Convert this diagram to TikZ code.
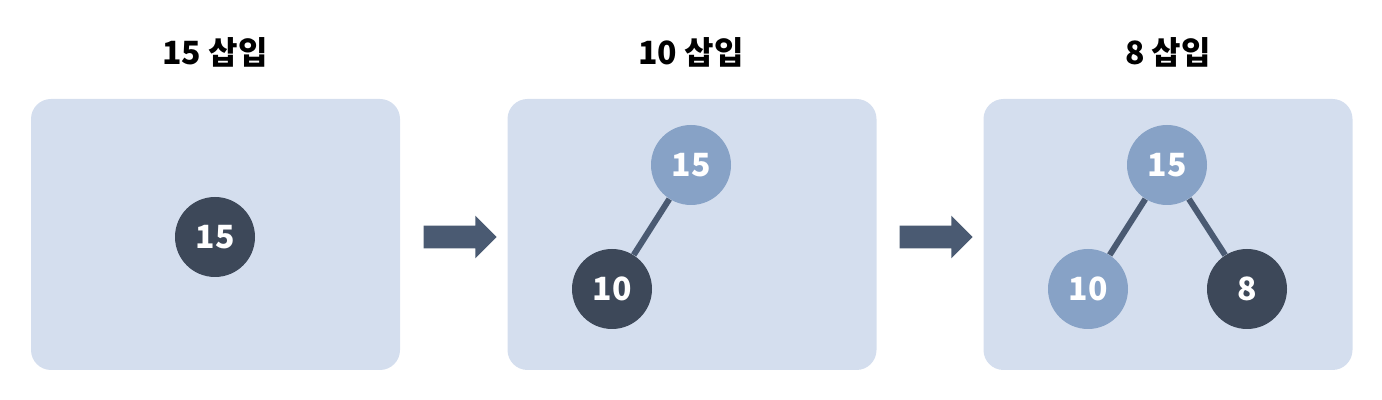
\documentclass[tikz,border=0pt]{standalone}
\usepackage{fontspec}
\setmainfont{Noto Sans CJK KR}
\usepackage{xcolor}
\usetikzlibrary{shapes.arrows, positioning}

\definecolor{panelbg}{HTML}{D4DEEE}
\definecolor{darknode}{HTML}{3D4859}
\definecolor{lightnode}{HTML}{87A2C6}
\definecolor{linkcol}{HTML}{4A5A72}

\begin{document}
\begin{tikzpicture}[
        x=0.5pt, y=-0.5pt,
        panel/.style={rectangle, rounded corners=10pt, fill=panelbg, minimum width=184.5pt, minimum height=135.5pt, inner sep=0pt},
        title/.style={font=\bfseries\fontsize{16}{18}\selectfont, text=black},
        newkey/.style={circle, fill=darknode, minimum size=40pt, inner sep=0pt, text=white, font=\bfseries\fontsize{16}{18}\selectfont},
        oldkey/.style={circle, fill=lightnode, minimum size=40pt, inner sep=0pt, text=white, font=\bfseries\fontsize{16}{18}\selectfont},
        link/.style={draw=linkcol, line width=3pt},
        step arrow/.style={single arrow, fill=linkcol, minimum height=36.5pt, minimum width=21pt, single arrow head extend=5pt, single arrow head indent=0pt, inner xsep=0pt, inner ysep=5.5pt, shape border rotate=0}
    ]
        \useasboundingbox (0,0) rectangle (1382,400);

        % panels
        \node[panel] (p1) at (215.5,234.5) {};
        \node[panel] (p2) at (692,234.5) {};
        \node[panel] (p3) at (1168,234.5) {};

        % titles
        \node[title] (t1) at (215,52) {15 삽입};
        \node[title] (t2) at (691,52) {10 삽입};
        \node[title] (t3) at (1168,52) {8 삽입};

        % step 1
        \node[newkey] (a15) at (215,237) {15};

        % step 2
        \node[oldkey] (b15) at (691,165) {15};
        \node[newkey] (b10) at (612,289) {10};
        \draw[link] (b15) -- (b10);

        % step 3
        \node[oldkey] (c15) at (1167,165) {15};
        \node[oldkey] (c10) at (1088,289) {10};
        \node[newkey] (c8) at (1247,289) {8};
        \draw[link] (c15) -- (c10);
        \draw[link] (c15) -- (c8);

        % arrows between panels
        \node[step arrow] (arr1) at (454.5,237) {};
        \node[step arrow] (arr2) at (930.5,237) {};
    \end{tikzpicture}
\end{document}
